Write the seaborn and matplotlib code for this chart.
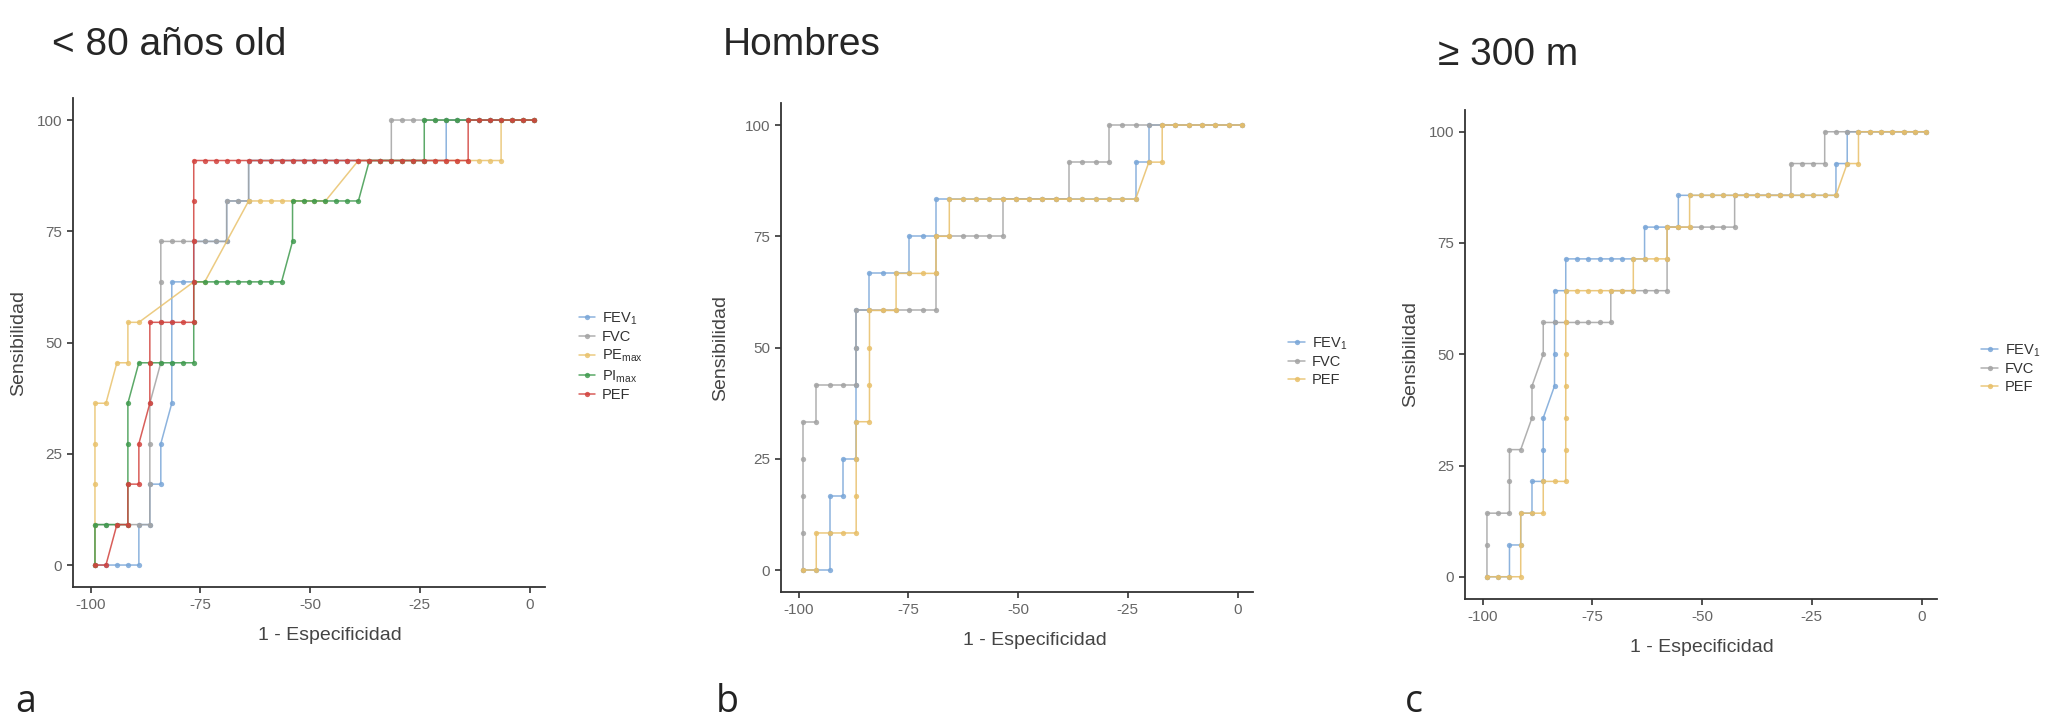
import matplotlib
matplotlib.use("Agg")
import matplotlib.pyplot as plt
from matplotlib.lines import Line2D
import pandas as pd
import seaborn as sns

# ROC points, stored as (false positives, true positives)
# the curves start at -99 on the "1 - Especificidad" axis and end at +1
X_START = -99

# panel a: "< 80 años old", 40 negatives / 11 positives
A_NEG, A_POS = 40, 11
a_fev1 = [(0, 0), (1, 0), (2, 0), (3, 0), (4, 0), (4, 1), (5, 1), (5, 2), (6, 2), (6, 3),
          (7, 4), (7, 5), (7, 6), (7, 7), (8, 7), (9, 7), (9, 8), (10, 8), (11, 8), (12, 8),
          (12, 9), (13, 9), (14, 9), (14, 10), (15, 10), (16, 10), (17, 10), (18, 10),
          (19, 10), (20, 10), (21, 10), (22, 10), (23, 10), (24, 10), (25, 10), (26, 10),
          (27, 10), (28, 10), (29, 10), (30, 10), (31, 10), (32, 10), (32, 11), (33, 11),
          (34, 11), (35, 11), (36, 11), (37, 11), (38, 11), (39, 11), (40, 11)]
a_fvc = [(0, 0), (0, 1), (1, 1), (2, 1), (3, 1), (4, 1), (5, 1), (5, 2), (5, 3), (5, 4),
         (6, 5), (6, 6), (6, 7), (6, 8), (7, 8), (8, 8), (9, 8), (10, 8), (11, 8), (12, 8),
         (12, 9), (13, 9), (14, 9), (14, 10), (15, 10), (16, 10), (17, 10), (18, 10),
         (19, 10), (20, 10), (21, 10), (22, 10), (23, 10), (24, 10), (25, 10), (26, 10),
         (27, 10), (27, 11), (28, 11), (29, 11), (30, 11), (31, 11), (32, 11), (33, 11),
         (34, 11), (35, 11), (36, 11), (37, 11), (38, 11), (39, 11), (40, 11)]
a_pemax = [(0, 0), (0, 1), (0, 2), (0, 3), (0, 4), (1, 4), (2, 5), (3, 5), (3, 6), (4, 6),
           (9, 7), (10, 7), (14, 9), (15, 9), (16, 9), (17, 9), (18, 9), (19, 9), (20, 9),
           (21, 9), (24, 10), (25, 10), (26, 10), (27, 10), (28, 10), (29, 10), (30, 10),
           (31, 10), (32, 10), (33, 10), (34, 10), (35, 10), (36, 10), (37, 10), (37, 11),
           (38, 11), (39, 11), (40, 11)]
a_pimax = [(0, 0), (0, 1), (1, 1), (2, 1), (3, 1), (3, 2), (3, 3), (3, 4), (4, 5), (5, 5),
           (6, 5), (7, 5), (8, 5), (9, 5), (9, 6), (9, 7), (10, 7), (11, 7), (12, 7), (13, 7),
           (14, 7), (15, 7), (16, 7), (17, 7), (18, 8), (18, 9), (19, 9), (20, 9), (21, 9),
           (22, 9), (23, 9), (24, 9), (25, 10), (26, 10), (27, 10), (28, 10), (29, 10),
           (30, 10), (30, 11), (31, 11), (32, 11), (33, 11), (34, 11), (35, 11), (36, 11),
           (37, 11), (38, 11), (39, 11), (40, 11)]
a_pef = [(0, 0), (1, 0), (2, 1), (3, 1), (3, 2), (4, 2), (4, 3), (5, 4), (5, 5), (5, 6),
         (6, 6), (7, 6), (8, 6), (9, 6), (9, 7), (9, 8), (9, 9), (9, 10), (10, 10), (11, 10),
         (12, 10), (13, 10), (14, 10), (15, 10), (16, 10), (17, 10), (18, 10), (19, 10),
         (20, 10), (21, 10), (22, 10), (23, 10), (24, 10), (25, 10), (26, 10), (27, 10),
         (28, 10), (29, 10), (30, 10), (31, 10), (32, 10), (33, 10), (34, 10), (34, 11),
         (35, 11), (36, 11), (37, 11), (38, 11), (39, 11), (40, 11)]

# panel b: "Hombres", 33 negatives / 12 positives
B_NEG, B_POS = 33, 12
b_fev1 = [(0, 0), (1, 0), (2, 0), (2, 1), (2, 2), (3, 2), (3, 3), (4, 3), (4, 4), (4, 5),
          (4, 6), (4, 7), (5, 7), (5, 8), (6, 8), (7, 8), (8, 8), (8, 9), (9, 9), (10, 9),
          (10, 10), (11, 10), (12, 10), (13, 10), (14, 10), (15, 10), (16, 10), (17, 10),
          (18, 10), (19, 10), (20, 10), (21, 10), (22, 10), (23, 10), (24, 10), (25, 10),
          (25, 11), (26, 11), (26, 12), (27, 12), (28, 12), (29, 12), (30, 12), (31, 12),
          (32, 12), (33, 12)]
b_fvc = [(0, 0), (0, 1), (0, 2), (0, 3), (0, 4), (1, 4), (1, 5), (2, 5), (3, 5), (4, 5),
         (4, 6), (4, 7), (5, 7), (6, 7), (7, 7), (8, 7), (9, 7), (10, 7), (10, 8), (10, 9),
         (11, 9), (12, 9), (13, 9), (14, 9), (15, 9), (15, 10), (16, 10), (17, 10), (18, 10),
         (19, 10), (20, 10), (20, 11), (21, 11), (22, 11), (23, 11), (23, 12), (24, 12),
         (25, 12), (26, 12), (27, 12), (28, 12), (29, 12), (30, 12), (31, 12), (32, 12),
         (33, 12)]
b_pef = [(0, 0), (1, 0), (1, 1), (2, 1), (3, 1), (4, 1), (4, 2), (4, 3), (4, 4), (5, 4),
         (5, 5), (5, 6), (5, 7), (6, 7), (7, 7), (7, 8), (8, 8), (9, 8), (10, 8), (10, 9),
         (11, 9), (11, 10), (12, 10), (13, 10), (14, 10), (15, 10), (16, 10), (17, 10),
         (18, 10), (19, 10), (20, 10), (21, 10), (22, 10), (23, 10), (24, 10), (25, 10),
         (26, 11), (27, 11), (27, 12), (28, 12), (29, 12), (30, 12), (31, 12), (32, 12),
         (33, 12)]

# panel c: ">= 300 m", 39 negatives / 14 positives
C_NEG, C_POS = 39, 14
c_fev1 = [(0, 0), (1, 0), (2, 0), (2, 1), (3, 1), (3, 2), (4, 2), (4, 3), (5, 3), (5, 4),
          (5, 5), (6, 6), (6, 7), (6, 8), (6, 9), (7, 9), (7, 10), (8, 10), (9, 10), (10, 10),
          (11, 10), (12, 10), (13, 10), (14, 10), (14, 11), (15, 11), (16, 11), (17, 11),
          (17, 12), (18, 12), (19, 12), (20, 12), (21, 12), (22, 12), (23, 12), (24, 12),
          (25, 12), (26, 12), (27, 12), (28, 12), (29, 12), (30, 12), (31, 12), (31, 13),
          (32, 13), (32, 14), (33, 14), (34, 14), (35, 14), (36, 14), (37, 14), (38, 14),
          (39, 14)]
c_fvc = [(0, 0), (0, 1), (0, 2), (1, 2), (2, 2), (2, 3), (2, 4), (3, 4), (4, 5), (4, 6),
         (5, 7), (5, 8), (6, 8), (7, 8), (8, 8), (9, 8), (10, 8), (11, 8), (11, 9), (12, 9),
         (13, 9), (14, 9), (15, 9), (16, 9), (16, 10), (16, 11), (17, 11), (18, 11), (19, 11),
         (20, 11), (21, 11), (22, 11), (22, 12), (23, 12), (24, 12), (25, 12), (26, 12),
         (27, 12), (27, 13), (28, 13), (29, 13), (30, 13), (30, 14), (31, 14), (32, 14),
         (33, 14), (34, 14), (35, 14), (36, 14), (37, 14), (38, 14), (39, 14)]
c_pef = [(0, 0), (1, 0), (2, 0), (3, 0), (3, 1), (3, 2), (4, 2), (5, 2), (5, 3), (6, 3),
         (7, 3), (7, 4), (7, 5), (7, 6), (7, 7), (7, 8), (7, 9), (8, 9), (9, 9), (10, 9),
         (11, 9), (12, 9), (13, 9), (13, 10), (14, 10), (15, 10), (16, 10), (16, 11), (17, 11),
         (18, 11), (18, 12), (19, 12), (20, 12), (21, 12), (22, 12), (23, 12), (24, 12),
         (25, 12), (26, 12), (27, 12), (28, 12), (29, 12), (30, 12), (31, 12), (32, 13),
         (33, 13), (33, 14), (34, 14), (35, 14), (36, 14), (37, 14), (38, 14), (39, 14)]

titles = ["< 80 años old", "Hombres", "≥ 300 m"]
letters = ["a", "b", "c"]
x_ticks = [-100, -75, -50, -25, 0]
y_ticks = [0, 25, 50, 75, 100]

COLORS = {"FEV1": "#79a6d8", "FVC": "#a3a3a3", "PEmax": "#e9c26c",
          "PImax": "#3f9a4e", "PEF": "#d2423d"}
PEF_YELLOW = "#e8bf68"
LABELS = {"FEV1": "FEV$_1$", "FVC": "FVC", "PEmax": "PE$_{max}$",
          "PImax": "PI$_{max}$", "PEF": "PEF"}


def to_frame(series, n_neg, n_pos):
    """Turn counts into 1-especificidad / sensibilidad in percent"""
    rows = []
    for name, pts in series.items():
        for fp, tp in pts:
            rows.append({"serie": name, "x": X_START + 100 * fp / n_neg,
                         "y": 100 * tp / n_pos})
    return pd.DataFrame(rows)


def draw_panel(ax, df, palette, leg_xy, xlab_xy, ylab_xy):
    names = list(palette.keys())
    sns.lineplot(data=df, x="x", y="y", hue="serie", hue_order=names,
                 palette=palette, sort=False, estimator=None, marker="o",
                 markersize=3.8, markeredgewidth=0, linewidth=1.1, alpha=0.85,
                 legend=False, ax=ax)
    ax.set_xlim(-104, 3.5)
    ax.set_ylim(-5, 105)
    ax.set_xticks(x_ticks)
    ax.set_yticks(y_ticks)
    ax.set_xlabel("1 - Especificidad", fontsize=14, color="#444444")
    ax.set_ylabel("Sensibilidad", fontsize=14, color="#444444")
    ax.xaxis.set_label_coords(*xlab_xy)
    ax.yaxis.set_label_coords(*ylab_xy)
    ax.tick_params(labelsize=11, labelcolor="#666666", color="#333333",
                   length=4, width=1.2, pad=4)
    for side in ["left", "bottom"]:
        ax.spines[side].set_color("#333333")
        ax.spines[side].set_linewidth(1.3)
    sns.despine(ax=ax)
    handles = [Line2D([], [], color=palette[n], marker="o", markersize=3.8,
                      markeredgewidth=0, linewidth=1.1, alpha=0.85) for n in names]
    ax.legend(handles, [LABELS[n] for n in names], loc="center left",
              bbox_to_anchor=leg_xy, frameon=False, fontsize=10.5,
              handlelength=1.15, handletextpad=0.45, labelspacing=0.25,
              borderpad=0, borderaxespad=0, labelcolor="#333333")


def main():
    sns.set_style("ticks")
    plt.rcParams["font.family"] = ["Liberation Sans", "DejaVu Sans"]
    plt.rcParams["mathtext.default"] = "regular"
    plt.rcParams["axes.unicode_minus"] = False

    fig = plt.figure(figsize=(20.5, 7.27), dpi=100)
    W, H = 2050, 727
    # axes boxes in pixels: left, bottom
    boxes = [(73, 587.3), (781, 592.3), (1465, 599)]
    aw, ah = 472, 489.5
    axes = [fig.add_axes([l / W, 1 - b / H, aw / W, ah / H]) for l, b in boxes]

    pal_a = {k: COLORS[k] for k in ["FEV1", "FVC", "PEmax", "PImax", "PEF"]}
    pal_bc = {"FEV1": COLORS["FEV1"], "FVC": COLORS["FVC"], "PEF": PEF_YELLOW}

    df_a = to_frame({"FEV1": a_fev1, "FVC": a_fvc, "PEmax": a_pemax,
                     "PImax": a_pimax, "PEF": a_pef}, A_NEG, A_POS)
    df_b = to_frame({"FEV1": b_fev1, "FVC": b_fvc, "PEF": b_pef}, B_NEG, B_POS)
    df_c = to_frame({"FEV1": c_fev1, "FVC": c_fvc, "PEF": c_pef}, C_NEG, C_POS)

    draw_panel(axes[0], df_a, pal_a, (1.071, 0.472), (0.544, -0.082), (-0.097, 0.5))
    draw_panel(axes[1], df_b, pal_bc, (1.075, 0.472), (0.538, -0.081), (-0.11, 0.5))
    draw_panel(axes[2], df_c, pal_bc, (1.094, 0.472), (0.502, -0.082), (-0.097, 0.5))

    # panel titles and letters
    title_pos = [(52, 55), (723, 55), (1438, 65)]
    for (x, y), t in zip(title_pos, titles):
        fig.text(x / W, 1 - y / H, t, fontsize=28, va="baseline", ha="left")
    letter_pos = [(15, 712), (716, 712), (1405, 712)]
    for (x, y), t in zip(letter_pos, letters):
        fig.text(x / W, 1 - y / H, t, fontsize=27, va="baseline", ha="left",
                 family=["Open Sans", "DejaVu Sans"], color="#222222")

    fig.savefig("out.png", dpi=100, facecolor="white")


if __name__ == "__main__":
    main()
